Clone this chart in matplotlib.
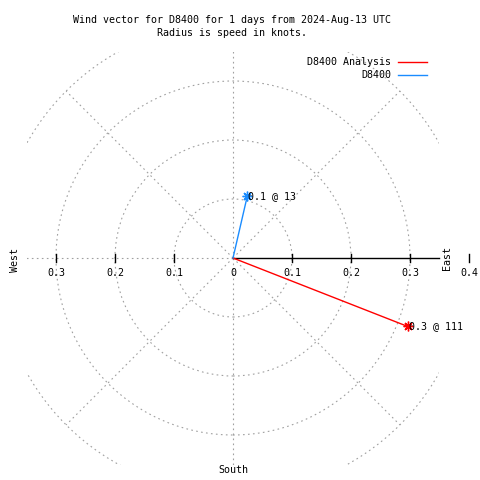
import numpy as np
import matplotlib
matplotlib.use("Agg")
import matplotlib.pyplot as plt
from matplotlib.patches import Rectangle, Circle
from matplotlib.lines import Line2D

# Data
names = ["D8400 Analysis", "D8400"]
speeds = [0.318, 0.108]        # knots
directions = [111.4, 13.0]     # degrees from north, clockwise
colors = ["#ff0000", "#1a8cff"]
rings = [0.1, 0.2, 0.3, 0.4]
spokes = [0, 45, 90, 135, 180, 225, 270, 315]
west_ticks = [-0.3, -0.2, -0.1]
east_ticks = [0.0, 0.1, 0.2, 0.3, 0.4]
title_lines = ["Wind vector for D8400 for 1 days from 2024-Aug-13 UTC",
               "Radius is speed in knots."]

plt.rcParams["font.family"] = "DejaVu Sans Mono"
FS = 7.2
W = H = 480
CX, CY = 233, 258      # centre of the plot in pixels
SCALE = 590.0          # pixels per knot
BOX = 0.35             # clip box half width

fig = plt.figure(figsize=(4.8, 4.8), dpi=100)
ax = fig.add_axes([0, 0, 1, 1])
ax.set_xlim(-CX / SCALE, (W - CX) / SCALE)
ax.set_ylim(-(H - CY) / SCALE, CY / SCALE)
ax.axis("off")

clip = Rectangle((-BOX, -BOX), 2 * BOX, 2 * BOX, transform=ax.transData,
                 fill=False, visible=False)
ax.add_patch(clip)

grid_kw = dict(color="#a0a0a0", lw=0.8, linestyle=(0, (1.5, 3)))

# rings
for r in rings:
    c = Circle((0, 0), r, fill=False, **grid_kw)
    ax.add_patch(c)
    c.set_clip_path(clip)

# spokes out to the outer ring
rmax = max(rings)
for a in spokes:
    if a == 90:
        continue
    t = np.radians(a)
    ln, = ax.plot([0, rmax * np.sin(t)], [0, rmax * np.cos(t)], **grid_kw)
    ln.set_clip_path(clip)

# east axis, solid
ax.plot([0, BOX], [0, 0], color="black", lw=1)

# ticks and their labels
tk = 4 / SCALE
for v in west_ticks + east_ticks:
    if v != 0:
        ax.plot([v, v], [-tk, tk], color="black", lw=1)
    ax.text(v, -15 / SCALE, "%g" % abs(v), ha="center", va="center",
            fontsize=FS)

# compass labels
ax.text(-218 / SCALE, -2 / SCALE, "West", rotation=90, ha="center",
        va="center", fontsize=FS)
ax.text(214 / SCALE, 0, "East", rotation=90, ha="center", va="center",
        fontsize=FS)
ax.text(0, -212 / SCALE, "South", ha="center", va="center", fontsize=FS)

# wind vectors
for s, d, col in zip(speeds, directions, colors):
    t = np.radians(d)
    x, y = s * np.sin(t), s * np.cos(t)
    ax.plot([0, x], [0, y], color=col, lw=1)
    ax.plot([x], [y], color=col, marker=(8, 2, 0), ms=7, mew=1)
    ax.text(x + 1 / SCALE, y, "%.1f @ %.0f" % (s, d), ha="left",
            va="center", fontsize=FS)


def px(x, y):
    return x / W, 1 - y / H


# title
for i, line in enumerate(title_lines):
    fig.text(*px(232, 20 + 13 * i), line, ha="center", va="center",
             fontsize=FS)

# legend
for i, (name, col) in enumerate(zip(names, colors)):
    yy = 62 + 13 * i
    fig.text(*px(391, yy), name, ha="right", va="center", fontsize=FS)
    x0, y0 = px(398, yy)
    x1, _ = px(427, yy)
    fig.add_artist(Line2D([x0, x1], [y0, y0], color=col, lw=1,
                          transform=fig.transFigure))

fig.savefig("out.png", dpi=100)
